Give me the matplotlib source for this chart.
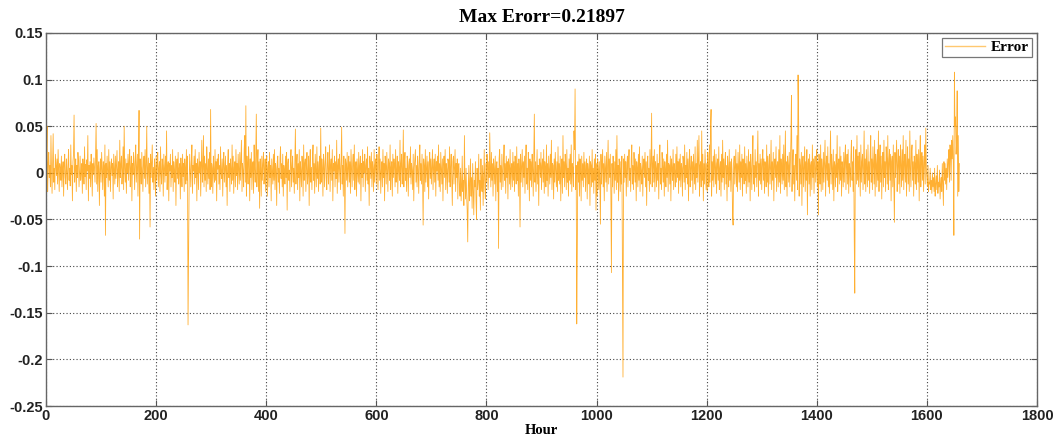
import numpy as np
import matplotlib
matplotlib.use("Agg")
import matplotlib.pyplot as plt

# Error values in thousandths, one row per 50 hours (read/estimated from the reference)
err_rows = [
    [-18, 25, 50, -20, 10, 22, -5, 8, -15, 40, 3, -22, 12, 42, -10, 5, -18, 20, 8, -3, 15, -12, 25, 0, -20, 10, 5, -8, 18, -15, 3, 12, -25, 8, 20, -5, -12, 15, 2, -18, 10, 25, -8, 5, -14, 30, -2, 8, -30, 12],
    [20, 62, -10, 5, 15, -20, 8, -5, 22, 12, -15, 3, 18, -8, 0, 10, -22, 15, 5, -12, 28, -4, 9, -18, 14, 2, 40, -30, 8, -6, 12, -15, 20, 5, -25, 10, -2, 16, 6, -10, 18, 53, -12, 25, -20, 8, 12, -35, 4, 15],
    [-10, 22, 5, -18, 12, 8, -25, 30, -67, 10, -5, 18, 2, -15, 25, -8, 12, -20, 6, 15, -3, 10, -28, 20, 4, -12, 18, -6, 9, 24, -15, 3, 12, -20, 35, -5, 8, 18, -12, 2, 28, -18, 50, 5, -10, 15, -22, 10, 0, 20],
    [-8, 12, 25, -15, 5, 18, -30, 10, -2, 22, 8, -18, 14, 30, -10, 4, 20, -25, 12, 67, -71, 15, 5, -12, 22, 3, -20, 10, 18, -6, 25, -15, 8, 50, -12, 2, 16, -22, 10, -58, 20, -5, 12, 30, -10, 6, -18, 15, 4, -25],
    [18, -8, 10, 22, -15, 5, 12, -20, 28, 0, -12, 15, 8, -25, 20, 4, -10, 18, -3, 45, -18, 6, 12, -30, 10, 2, 20, -15, 8, -5, 25, -20, 12, 3, -10, 18, -35, 8, 15, -6, 22, -12, 5, 10, -28, 16, 2, -15, 20, -4],
    [10, -20, 15, 5, -12, 25, -8, 18, -163, -80, -10, 20, 4, -15, 12, 30, -22, 8, 2, 18, -12, 25, -5, 10, -30, 15, 6, -18, 22, 0, 12, -25, 8, 35, -10, 4, 40, -15, 18, -8, 10, -20, 28, 5, -12, 15, -6, 22, -18, 68],
    [-15, 10, 5, -22, 18, 2, -10, 25, -8, 12, -30, 15, 4, 20, -12, 8, -18, 28, 0, -6, 15, -25, 10, 22, -10, 5, 18, -15, 8, -35, 12, 25, -5, 10, -20, 15, 3, -12, 30, -8, 18, -22, 6, 12, -15, 25, -3, 10, -18, 20],
    [5, -12, 22, -8, 15, 35, -20, 10, 2, -15, 25, 40, -10, 72, -25, 18, 5, -12, 28, 10, -30, 15, -5, 22, -18, 8, 12, -22, 30, 4, -10, 20, 63, -15, 8, 25, -20, 12, -38, 15, 5, -25, 18, -8, 10, 22, -12, 0, 15, -20],
    [10, 18, -25, 5, 12, -15, 22, -5, 8, -30, 15, 2, -12, 20, -8, 25, -18, 10, 4, -35, 12, 18, -10, 5, -22, 15, 28, -6, 10, -15, 20, -25, 8, 2, -12, 18, -5, 22, -40, 10, 15, -8, 3, -20, 12, 25, -15, 6, 18, -10],
    [5, -22, 15, 47, -12, 8, 20, -18, 10, -5, 25, -30, 12, 2, -15, 18, 8, -25, 30, -8, 10, 15, -20, 5, 22, -12, 0, 18, -35, 12, 25, -10, 6, -18, 15, 30, -8, 10, -22, 20, 4, -15, 28, -6, 12, -20, 8, 18, -12, 48],
    [-10, 15, 5, -25, 20, 8, -15, 12, 28, -5, -18, 10, 22, -12, 4, 30, -20, 8, 15, -8, 25, -30, 10, 2, 18, -15, 12, -6, 35, -22, 8, 15, -10, 20, 5, -18, 12, 49, -12, 8, -25, 18, 2, -65, 15, 10, -8, 22, -15, 5],
    [18, -10, 12, -22, 25, 6, -15, 10, 20, -8, 30, -18, 5, 12, -25, 15, 2, -10, 22, -12, 8, 18, -30, 10, -5, 25, -15, 12, 0, 20, -20, 8, 15, -8, 28, -12, 5, -35, 18, 10, -6, 22, -15, 12, 4, -20, 25, -10, 8, 15],
    [-12, 20, 5, -18, 10, 28, -8, 15, -22, 2, 12, -15, 25, -5, 10, -30, 18, 8, -12, 22, 4, -20, 15, 10, -8, 30, -18, 6, 12, -25, 20, -5, 15, 8, -15, 25, -10, 2, 18, -22, 12, 5, -8, 35, -15, 10, 20, -12, 4, 46],
    [-15, 10, 22, -8, 5, -20, 18, 12, -25, 8, 15, -5, 28, -12, 10, 2, -18, 20, -30, 6, 15, 25, -10, 8, -15, 18, 4, -22, 12, 30, -8, 10, -12, 20, -5, -56, 15, 8, -20, 25, -10, 5, 18, -15, 12, -28, 10, 22, -6, 15],
    [-12, 8, 25, -18, 5, 15, -10, 20, -25, 12, 2, 18, -8, 30, -15, 10, -20, 22, 5, -12, 15, -30, 8, 18, -5, 25, -18, 10, 4, -22, 15, 12, -10, 28, -15, 6, 20, -8, -35, 12, 18, -12, 5, 25, -20, 10, -5, 15, -28, 8],
    [10, -15, -25, 5, -30, -12, 18, -20, -8, -35, 40, -10, -28, 5, -22, -40, -74, -15, 8, -30, -12, 15, -25, -5, -38, 10, -20, -45, -8, -15, 12, -30, -50, 5, -18, -10, 20, -25, -8, -40, 15, -12, -20, 8, -35, -5, 25, -15, -28, 10],
    [-10, 20, 5, -18, 12, -5, 43, 8, -15, 22, -8, 10, -25, 15, 4, -12, 18, -30, 8, 12, -20, 5, -81, 15, 25, -10, 8, -18, 20, 2, -15, 12, 30, -8, 10, -22, 18, -5, 12, -28, 15, 8, -12, 25, -18, 5, 10, -15, 22, -8],
    [12, -20, 18, 5, -12, 28, -8, 10, -25, 15, 2, -58, 20, -10, 8, 25, -15, 12, -5, 18, -22, 10, 30, -12, 5, -18, 22, 8, -30, 15, -8, 12, -15, 20, 4, -25, 18, 63, -10, 12, -20, 5, 25, -12, 8, -35, 15, 10, -5, 22],
    [-18, 8, 15, -10, 25, -22, 12, 5, -15, 30, -8, 10, -25, 18, 2, -12, 20, -5, 35, -18, 10, 8, -28, 15, -10, 22, 5, -15, 12, -20, 28, -8, 10, -12, 18, -30, 6, 15, -22, 40, -5, 12, -15, 20, 8, -18, 25, -10, 5, -25],
    [15, -8, 20, -12, 30, -20, 10, 5, -15, 45, 25, 90, -18, 8, -162, -85, 12, -10, 20, -25, 15, 5, -30, 18, -8, 10, -15, 22, -5, 12, -20, 8, 15, -28, 10, 2, -12, 18, -35, 12, 8, -15, 25, -10, 5, -22, 15, -8, 20, -40],
    [10, -25, 15, 5, -18, 12, -8, -55, 20, -12, 8, 25, -15, 10, -30, 18, 4, -10, 22, -20, 8, 35, -12, 15, -5, 20, -25, -107, 10, -15, 18, 5, -22, 12, -8, 25, -18, 40, -10, 8, -30, 15, 5, -20, 12, -12, 18, -110, -219, 15],
    [-10, 20, -5, 12, -25, 8, 18, -15, 10, 25, -8, 5, -20, 15, 30, -12, 8, -18, 22, 4, -10, 15, -30, 12, 5, -15, 20, -8, 28, -20, 10, 2, -12, 18, -25, 8, 15, -5, 22, -15, 12, -35, 10, 18, -8, 5, -20, 25, -12, 10],
    [64, -15, 8, 18, -10, 25, -20, 12, 5, -15, 20, -8, 10, -28, 15, 30, -12, 5, -18, 22, 8, -10, 15, -25, 12, 2, -15, 20, -5, 35, -20, 10, 8, -12, 18, -30, 15, 5, -8, 25, -18, 10, 2, -15, 20, -10, 28, -5, 12, -22],
    [15, -8, 20, -15, 10, 5, -25, 18, 12, -10, 30, -18, 8, -5, 22, -12, 15, -30, 10, 25, -15, 5, 18, -8, 12, -22, 20, 4, -12, 28, -18, 10, -5, 35, -10, 15, 40, -25, 8, 12, -15, 45, -8, 20, -30, 10, -12, 25, 5, -18],
    [10, -20, 22, 8, -15, 30, -10, 50, 68, -25, 12, -8, 18, -15, 25, 5, -12, 20, -22, 10, 15, -8, 28, -18, 5, 12, -25, 20, -10, 35, -5, 15, -18, 10, 22, -12, 8, -30, 18, 5, -15, 25, -8, 12, -20, 15, 4, -45, -56, 10],
    [18, -12, 8, 25, -15, 10, -20, 22, 5, -10, 30, -18, 12, -5, 20, -25, 15, 8, -12, 28, -8, 10, -22, 18, 2, -15, 25, -10, 12, -30, 20, 5, -18, 15, 40, -12, 8, -20, 25, -5, 12, -15, 18, 45, -25, 10, -8, 20, -12, 15],
    [-18, 10, 25, -8, 15, -22, 12, 5, -15, 30, -10, 18, -25, 8, 20, -12, 5, 35, -18, 12, -8, 22, -30, 10, 15, -5, 28, -20, 8, 12, -15, 25, -10, 40, -22, 15, 5, -12, 20, -8, 30, -18, 10, 45, -15, 12, -25, 18, 8, -10],
    [22, -15, 12, 35, 83, -20, 10, 25, -12, 8, -30, 15, 20, -8, 40, -18, 105, 60, -25, 15, 8, -12, 22, -35, 10, 18, -15, 5, 28, -20, 12, -8, 25, -45, 10, 15, -12, 20, -25, 8, 12, -18, 30, -5, 15, -22, 10, 18, -10, 5],
    [25, -15, 12, -45, 20, 8, -12, 30, -20, 15, 5, -18, 22, -10, 12, 35, -25, 8, 18, -8, 28, -15, 10, -22, 15, 45, -12, 20, 5, -18, 25, -30, 12, 8, -15, 20, -5, 40, -20, 10, 15, -12, 28, -8, 18, -25, 12, 5, -15, 22],
    [-10, 15, 30, -18, 8, 20, -12, 25, -22, 10, 5, -15, 18, 35, -8, 12, -20, 28, -67, -129, 15, 25, -12, 40, -8, 18, -15, 22, 5, -25, 30, -10, 12, 20, -18, 8, 45, -12, 15, -20, 25, 5, -15, 30, -8, 12, -22, 18, 40, -10],
    [15, -18, 28, 8, -12, 35, -25, 20, 10, -15, 25, -8, 45, -20, 12, 30, -10, 18, -28, 8, 22, -15, 35, -5, 12, -20, 28, 15, -12, 40, -18, 10, 25, -8, 20, -30, 12, 18, -15, 30, -10, -53, 22, -5, 15, 35, -20, 8, 25, -12],
    [18, -22, 30, 10, -15, 25, -8, 40, -18, 12, 20, -10, 35, -25, 8, 28, -12, 15, -20, 45, 5, -15, 22, 30, -8, 12, -25, 18, 10, -12, 35, -18, 20, 8, -10, 25, -30, 15, 40, -15, 12, 22, -8, 18, -20, 10, 30, -12, 48, 5],
    [-5, -15, 8, -20, -10, -12, 5, -18, -8, -22, 0, -15, -5, -20, 5, -25, -12, -3, -18, 8, -22, -10, -15, 3, -28, -12, -5, -20, 10, -15, -35, 12, -8, 10, -12, 5, -18, 15, -5, 12, 25, -10, 30, 20, -8, 35, 15, 40, 10, -67],
    [108, 50, 60, 20, 35, 88, -25, 40, -20, 10],
]

error = np.concatenate([np.array(r, dtype=float) for r in err_rows]) / 1000.0
hours = np.arange(len(error))

title_text = "Max Erorr=0.21897"
xlabel_text = "Hour"
legend_label = "Error"
xticks = [0, 200, 400, 600, 800, 1000, 1200, 1400, 1600, 1800]
yticks = [-0.25, -0.2, -0.15, -0.1, -0.05, 0, 0.05, 0.1, 0.15]
ytick_labels = ["-0.25", "-0.2", "-0.15", "-0.1", "-0.05", "0", "0.05", "0.1", "0.15"]

fig = plt.figure(figsize=(10.59, 4.36), dpi=100)
ax = fig.add_axes([46/1059, 30/436, (1037-46)/1059, (406-33)/436])

ax.plot(hours, error, color="#FF9D00", linewidth=0.6, alpha=0.8, label=legend_label)

ax.set_xlim(0, 1800)
ax.set_ylim(-0.25, 0.15)
ax.set_xticks(xticks)
ax.set_yticks(yticks)
ax.set_yticklabels(ytick_labels)

for lab in ax.get_xticklabels() + ax.get_yticklabels():
    lab.set_fontfamily("Liberation Sans")
    lab.set_fontweight("bold")
    lab.set_fontsize(10.5)
    lab.set_color("#222222")

ax.tick_params(direction="in", length=4, width=0.8, color="#555555",
               top=True, right=True)
ax.tick_params(axis="x", pad=2)
ax.tick_params(axis="y", pad=2)
ax.grid(True, color="#444444", linestyle=(0, (1, 2)), linewidth=0.8)
for s in ax.spines.values():
    s.set_color("#666666")
    s.set_linewidth(1.0)

ax.set_title(title_text, fontfamily="Liberation Serif", fontweight="bold",
             fontsize=14, pad=8)
ax.set_xlabel(xlabel_text, fontfamily="Liberation Serif", fontweight="bold",
              fontsize=10.5, labelpad=1)

leg = ax.legend(loc="upper right", prop={"family": "Liberation Serif", "weight": "bold", "size": 11},
                frameon=True, fancybox=False, edgecolor="#555555", handlelength=2.6,
                handletextpad=0.4, borderpad=0.2, borderaxespad=0.3)
leg.get_frame().set_linewidth(0.9)
for h in leg.get_lines():
    h.set_color("#FFC870")
    h.set_linewidth(1.0)
    h.set_alpha(1.0)

fig.savefig("out.png", dpi=100)
